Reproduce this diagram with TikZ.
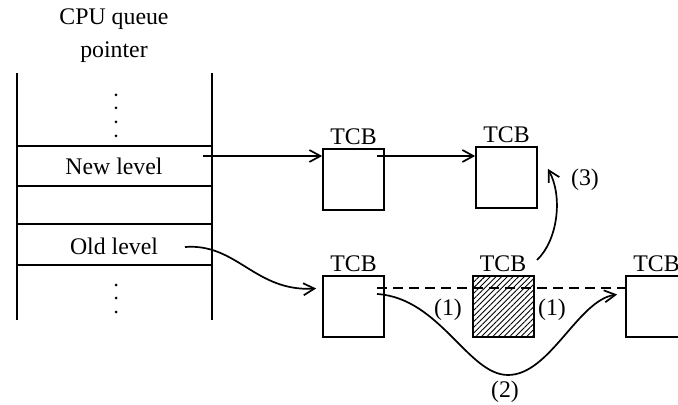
\documentclass[tikz,border=0pt]{standalone}
\usepackage{fontspec}
\setmainfont{Liberation Serif}
\usetikzlibrary{arrows.meta,patterns.meta,calc}
\begin{document}
\begin{tikzpicture}[x=0.5pt,y=-0.5pt,
  font=\fontsize{11.9}{16.5}\selectfont,
  line width=0.85pt,
  tcbbox/.style={draw,rectangle,inner sep=0pt,minimum width=30.5pt,minimum height=30.5pt},
  tcblabel/.style={anchor=south,inner sep=1.5pt},
  arr/.style={-{Straight Barb[length=5.5pt,width=6pt,line width=0.85pt]}},
  lbl/.style={inner sep=0pt},
  dot/.style={circle,fill,inner sep=0pt,minimum size=1.5pt}]
\clip (0,0) rectangle (678,405);
% queue column
\node[lbl,align=center] (title) at (114,36) {CPU queue\\pointer};
\draw (17,73) -- (17,320);
\draw (212,73) -- (212,320);
\draw (17,146) -- (212,146);
\draw (17,186) -- (212,186);
\draw (17,224) -- (212,224);
\draw (17,265) -- (212,265);
\node[lbl] (newl) at (114,166) {New level};
\node[lbl] (oldl) at (114,246) {Old level};
\foreach \y [count=\i] in {95,108,122,136} \node[dot] (td\i) at (116,\y) {};
\foreach \y [count=\i] in {285,298,312} \node[dot] (bd\i) at (116,\y) {};
% TCB boxes
\node[tcbbox] (b1) at (353.5,179.5) {};
\node[tcbbox] (b2) at (506.5,177.5) {};
\node[tcbbox] (b3) at (353.5,306.5) {};
\node[tcbbox] (b5) at (656.5,306.5) {};
\foreach \b in {b1,b2,b3,b5} \node[tcblabel] (t\b) at (\b.north) {TCB};
% dashed link behind hatched box
\coordinate (d1) at (377,288);
\draw[dash pattern=on 5pt off 3pt] (d1) -- (d1 -| b5.west);
\node[tcbbox,fill=white,pattern={Lines[angle=45,distance=2pt,line width=0.45pt]}] (b4) at (503,306.5) {};
\node[tcbbox,line width=1pt] at (b4) {};
\node[tcblabel] (tb4) at (b4.north) {TCB};
% new level chain
\coordinate (nl) at (203,156);
\draw[arr] (nl) -- (nl -| b1.west);
\coordinate (c1) at (377,156);
\draw[arr] (c1) -- (c1 -| b2.west);
% old level arrow
\coordinate (ol) at (185,247);
\draw[arr] (ol) .. controls (237,243) and (255,292) .. ($(b3.west)+(-6,-18)$);
% (2) curve
\coordinate (c3) at (377,294);
\coordinate (low) at (508,375);
\draw[arr] (c3) .. controls (440,298) and (468,375) .. (low) .. controls (550,375) and (578,300) .. ($(b5.west)+(-8,-12)$);
% (3) curve
\coordinate (c4) at (537,260);
\draw[arr] (c4) .. controls (558,240) and (563,196) .. ($(b2.south east)+(10,-40)$);
% labels
\node[lbl] (l1a) at (448,310) {(1)};
\node[lbl] (l1b) at (552,310) {(1)};
\node[lbl] (l2) at (505,392) {(2)};
\node[lbl] (l3) at (585,180) {(3)};
\end{tikzpicture}
\end{document}
